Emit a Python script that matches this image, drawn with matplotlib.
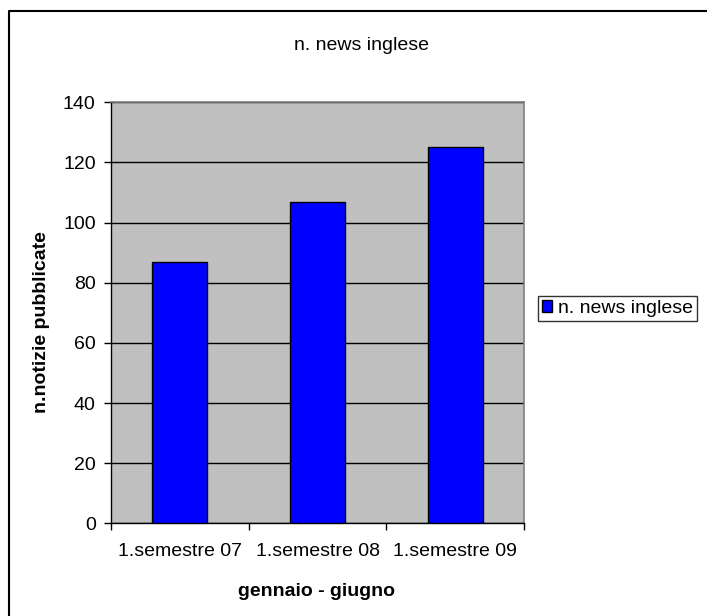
import matplotlib
matplotlib.use("Agg")
import matplotlib.pyplot as plt
from matplotlib.lines import Line2D

categories = ["1.semestre 07", "1.semestre 08", "1.semestre 09"]
values = [87, 107, 125]
series_name = "n. news inglese"
title = "n. news inglese"
xlabel = "gennaio - giugno"
ylabel = "n.notizie pubblicate"
yticks = [0, 20, 40, 60, 80, 100, 120, 140]

plt.rcParams['font.family'] = ['Liberation Sans', 'DejaVu Sans']
FS = 14

W, H = 707, 616
fig = plt.figure(figsize=(W / 100, H / 100), dpi=100)
fig.patch.set_facecolor("white")

# outer border (only top and left edges visible in the reference)
fig.lines.append(Line2D([9 / W, 9 / W, 1.0], [0.0, 1 - 11 / H, 1 - 11 / H],
                        transform=fig.transFigure, color="black", linewidth=1.5))

ax = fig.add_axes([111 / W, 1 - 523.3 / H, (524 - 111) / W, (523.3 - 102.3) / H])
ax.set_facecolor("#C0C0C0")

x = list(range(len(categories)))
ax.bar(x, values, width=0.4, color="#0000FF", edgecolor="black", linewidth=1.0,
       label=series_name, zorder=3)

ax.set_xlim(-0.5, len(categories) - 0.5)
ax.set_ylim(0, 140)
ax.set_yticks(yticks)
ax.set_yticklabels([str(v) for v in yticks], fontsize=FS)
ax.yaxis.grid(True, color="black", linewidth=1.0, zorder=1)
ax.set_axisbelow(True)

ax.set_xticks([i - 0.5 for i in range(len(categories) + 1)])
ax.set_xticklabels([])
ax.set_xticks(x, minor=True)
ax.set_xticklabels(categories, minor=True, fontsize=FS)
ax.tick_params(axis="x", which="minor", length=0, pad=14)
ax.tick_params(axis="x", which="major", length=5, direction="out", width=1)
ax.tick_params(axis="y", length=5, direction="out", width=1, pad=6)

for s in ["top", "right"]:
    ax.spines[s].set_color("#808080")
    ax.spines[s].set_linewidth(1.2)
for s in ["left", "bottom"]:
    ax.spines[s].set_color("black")
    ax.spines[s].set_linewidth(1.0)

fig.text(361 / W, 1 - 46 / H, title, ha="center", va="center", fontsize=FS)
fig.text(316 / W, 1 - 591 / H, xlabel, ha="center", va="center", fontsize=FS,
         fontweight="bold")
fig.text(42 / W, 1 - 322 / H, ylabel, ha="center", va="center", fontsize=FS,
         fontweight="bold", rotation=90)

leg = fig.legend(loc="upper left", bbox_to_anchor=(538 / W, 1 - 296 / H),
                 bbox_transform=fig.transFigure, fontsize=FS, frameon=True,
                 fancybox=False, edgecolor="black", handlelength=0.5,
                 handleheight=0.5, handletextpad=0.35, borderpad=0.2,
                 borderaxespad=0)
leg.get_frame().set_linewidth(1.0)

fig.savefig("out.png", dpi=100, facecolor="white")
